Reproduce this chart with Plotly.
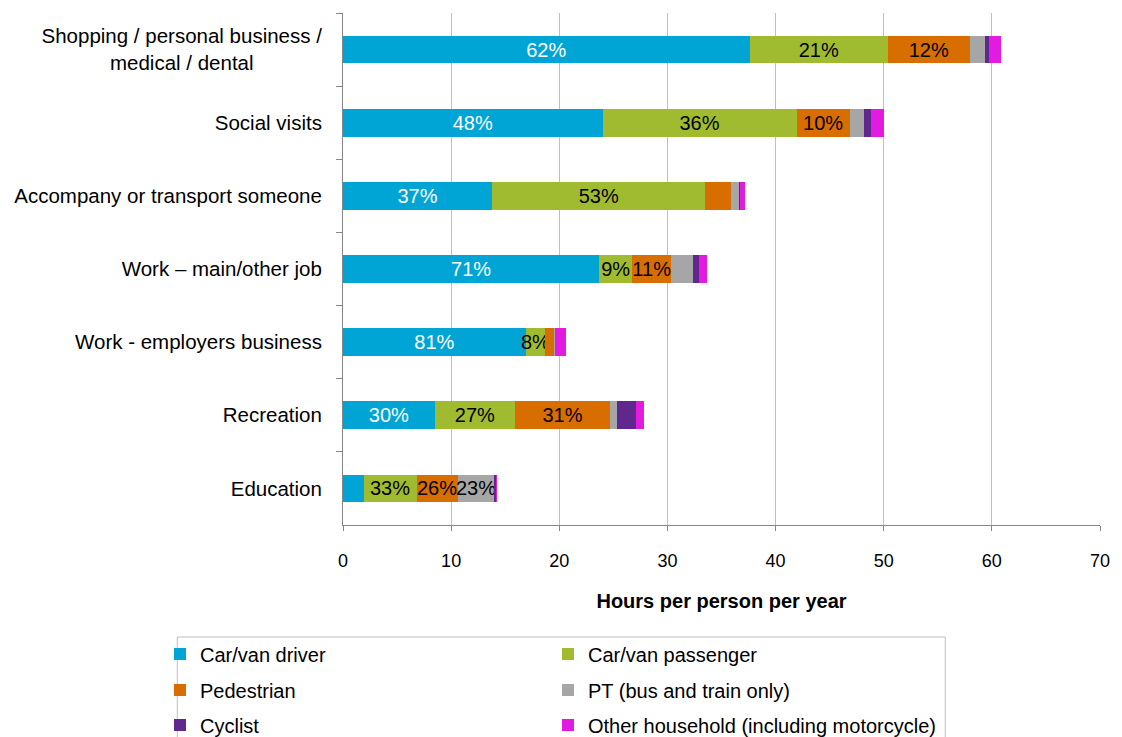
import plotly.graph_objects as go

NBSP = "\u00a0"
categories = [
    "Shopping / personal business /<br>medical / dental" + NBSP * 12,
    "Social visits",
    "Accompany or transport someone",
    "Work \u2013 main/other job",
    "Work - employers business",
    "Recreation",
    "Education",
]

series_names = [
    "Car/van driver",
    "Car/van passenger",
    "Pedestrian",
    "PT (bus and train only)",
    "Cyclist",
    "Other household (including motorcycle)",
]

driver = [37.6, 24.0, 13.8, 23.7, 16.9, 8.5, 1.9]
passenger = [12.8, 17.95, 19.7, 3.05, 1.8, 7.4, 4.9]
pedestrian = [7.55, 4.9, 2.4, 3.6, 0.85, 8.8, 3.8]
pt = [1.45, 1.3, 0.75, 2.0, 0.05, 0.6, 3.4]
cyclist = [0.3, 0.7, 0.05, 0.6, 0.0, 1.8, 0.22]
other = [1.15, 1.2, 0.45, 0.7, 1.0, 0.75, 0.02]

driver_labels = ["62%", "48%", "37%", "71%", "81%", "30%", ""]
passenger_labels = ["21%", "36%", "53%", "9%", "8%", "27%", "33%"]
pedestrian_labels = ["12%", "10%", "", "11%", "", "31%", "26%"]
pt_labels = ["", "", "", "", "", "", "23%"]
empty_labels = ["", "", "", "", "", "", ""]

values = [driver, passenger, pedestrian, pt, cyclist, other]
labels = [driver_labels, passenger_labels, pedestrian_labels, pt_labels, empty_labels, empty_labels]
colors = ["#00A5D6", "#A0BB2F", "#D96E00", "#A6A6A6", "#60288C", "#E31BE0"]
text_colors = ["white", "black", "black", "black", "black", "black"]

FONT = "Liberation Sans, Arial, sans-serif"
BAR_TEXT = 20

W, H = 1122, 737
L, R, T, B = 343, 16, 13, 212

def cx(px):
    return px / W

def cy(py):
    return 1 - py / H

# one legend per entry, laid out in two columns and three rows
legend_ids = ["legend", "legend2", "legend3", "legend4", "legend5", "legend6"]
legend_px = [(160, 654), (548, 654), (160, 690), (548, 690), (160, 725), (548, 725)]

fig = go.Figure()
for name, vals, labs, col, tcol, lg in zip(series_names, values, labels, colors, text_colors, legend_ids):
    fig.add_trace(go.Bar(
        y=categories, x=vals, name=name, orientation="h",
        marker=dict(color=col, line=dict(width=0)),
        text=labs, textposition="inside", insidetextanchor="middle",
        textangle=0,
        textfont=dict(color=tcol, size=BAR_TEXT, family=FONT),
        constraintext="none", cliponaxis=False,
        legend=lg,
    ))

legend_common = dict(
    orientation="h", xref="container", yref="container",
    xanchor="left", yanchor="middle",
    font=dict(size=20, family=FONT, color="black"),
    bgcolor="rgba(0,0,0,0)", borderwidth=0,
    itemwidth=30,
)
legend_layout = {}
for lg, (px, py) in zip(legend_ids, legend_px):
    legend_layout[lg] = dict(legend_common, x=cx(px), y=cy(py))

fig.update_layout(
    width=W, height=H,
    margin=dict(l=L, r=R, t=T, b=B),
    paper_bgcolor="white", plot_bgcolor="white",
    barmode="stack", bargap=0.62,
    font=dict(family=FONT, size=20, color="black"),
    uniformtext=dict(minsize=BAR_TEXT, mode="show"),
    showlegend=True,
    **legend_layout,
    xaxis=dict(
        range=[0, 70], dtick=10, tick0=0,
        showgrid=True, gridcolor="#C0C0C0", gridwidth=1,
        showline=True, linecolor="#868686", linewidth=1,
        ticks="outside", ticklen=5, tickcolor="#868686",
        tickfont=dict(size=18, family=FONT, color="black"),
        ticklabelstandoff=14,
        zeroline=False,
        title=dict(text="<b>Hours per person per year</b>",
                   font=dict(size=20, family=FONT, color="black"), standoff=24),
    ),
    yaxis=dict(
        autorange="reversed",
        showline=True, linecolor="#868686", linewidth=1,
        ticks="outside", ticklen=6, tickcolor="#868686", tickson="boundaries",
        tickfont=dict(size=20.5, family=FONT, color="black"),
        ticklabelstandoff=16,
        showgrid=False,
    ),
)

fig.add_shape(
    type="rect", xref="paper", yref="paper",
    x0=(176 - L) / (W - L - R), x1=(950 - L) / (W - L - R),
    y0=(H - B - 637) / (H - T - B), y1=(H - B - 760) / (H - T - B),
    line=dict(color="#BFBFBF", width=1), fillcolor="rgba(0,0,0,0)",
    layer="above",
)

fig.write_html("out.html")
